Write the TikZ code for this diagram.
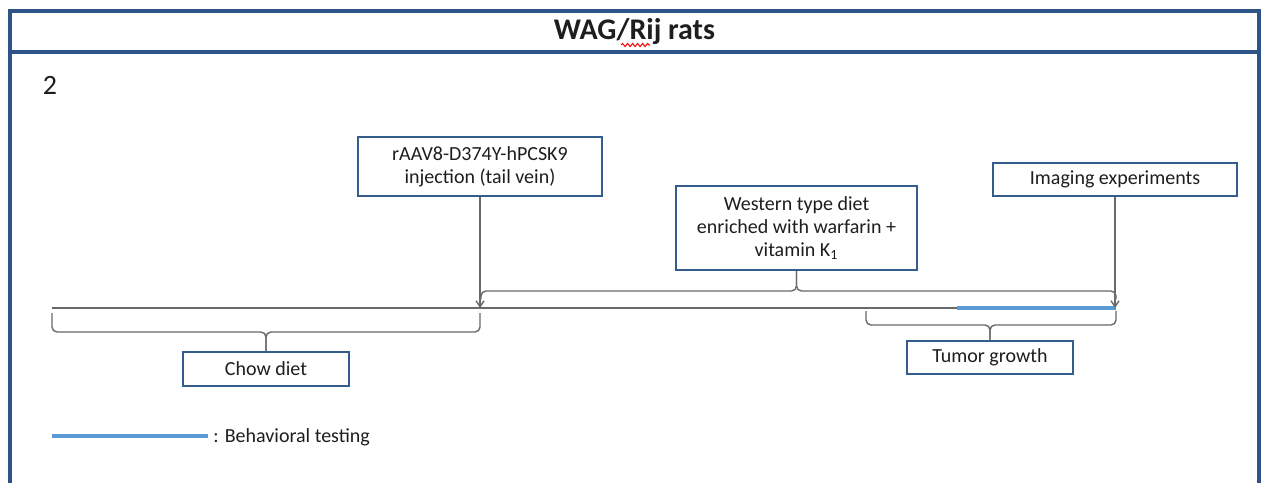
\documentclass[tikz,border=0pt]{standalone}
\usepackage{fontspec}
\setmainfont{Carlito}
\usetikzlibrary{arrows.meta,decorations.pathmorphing}
\definecolor{frameblue}{RGB}{46,84,135}
\definecolor{boxblue}{RGB}{52,92,140}
\definecolor{linegray}{RGB}{105,105,105}
\definecolor{testblue}{RGB}{91,155,213}
\definecolor{txt}{RGB}{30,30,30}
\begin{document}
\begin{tikzpicture}[x=0.5pt,y=-0.5pt,
  stagebox/.style={draw=boxblue,line width=1pt,fill=white,text=txt,align=center,
    inner sep=0pt,font=\fontsize{10}{11.5}\selectfont},
  link/.style={draw=linegray,line width=0.7pt},
  pointer/.style={link,-{Straight Barb[length=3pt,width=4pt]}},
  bracket/.style={link,rounded corners=2.5pt},
  frameline/.style={draw=frameblue,line width=1.6pt},
  testbar/.style={draw=testblue,line width=2pt}
]
\useasboundingbox (0,0) rectangle (1261,482);

% outer frame and title band
\draw[frameline] (10,490) -- (10,11) -- (1259,11) -- (1259,490);
\draw[frameline] (10,52) -- (1259,52);
\node[font=\fontsize{15}{18}\selectfont\bfseries,text=txt] (title) at (634.5,32) {WAG/Rij rats};
\draw[red,line width=0.5pt,decorate,decoration={snake,amplitude=0.8pt,segment length=2.5pt}]
  (621,45) -- (650,45);
\node[font=\fontsize{14}{16}\selectfont,text=txt] (panel) at (50,85) {2};

% timeline
\coordinate (t0) at (52,308);
\coordinate (tinj) at (480,308);
\coordinate (tbeh) at (957,308);
\coordinate (tend) at (1116,308);
\draw[link] (t0) -- (tend);
\draw[testbar] (tbeh) -- (tend);

% stages
\node[stagebox,minimum width=122pt,minimum height=29.5pt] (inj) at (480,166.5)
  {rAAV8-D374Y-hPCSK9\\injection (tail vein)};
\node[stagebox,minimum width=120.5pt,minimum height=42pt] (west) at (796.5,228)
  {Western type diet\\enriched with warfarin +\\vitamin K\textsubscript{1}};
\node[stagebox,minimum width=122pt,minimum height=16.5pt] (img) at (1115,179.5)
  {Imaging experiments};
\node[stagebox,minimum width=83pt,minimum height=17pt] (chow) at (266,369) {Chow diet};
\node[stagebox,minimum width=83pt,minimum height=16.5pt] (tumor) at (990,357.5) {Tumor growth};

% event pointers
\draw[pointer] (inj.south) -- (tinj);
\draw[pointer] (img.south) -- (img.south |- tend);

% western diet bracket
\coordinate (wl) at (481,299);
\coordinate (wr) at (1116,299);
\coordinate (wm) at (796.5,291);
\draw[bracket] (wl) -- (wl |- wm) -- (wm) -- (west.south);
\draw[bracket] (wr) -- (wr |- wm) -- (wm) -- (west.south);

% chow diet bracket
\coordinate (cl) at (52,313);
\coordinate (cr) at (480,313);
\coordinate (cm) at (266,332);
\draw[bracket] (cl) -- (cl |- cm) -- (cm) -- (chow.north);
\draw[bracket] (cr) -- (cr |- cm) -- (cm) -- (chow.north);

% tumor growth bracket
\coordinate (gl) at (866,311);
\coordinate (gr) at (1116,311);
\coordinate (gm) at (990,325);
\draw[bracket] (gl) -- (gl |- gm) -- (gm) -- (tumor.north);
\draw[bracket] (gr) -- (gr |- gm) -- (gm) -- (tumor.north);

% legend
\coordinate (lg0) at (52,436);
\coordinate (lg1) at (208,436);
\draw[testbar] (lg0) -- (lg1);
\node[anchor=west,inner sep=0pt,text=txt,font=\fontsize{10}{12}\selectfont] (legend) at (213,437)
  {: Behavioral testing};
\end{tikzpicture}
\end{document}
